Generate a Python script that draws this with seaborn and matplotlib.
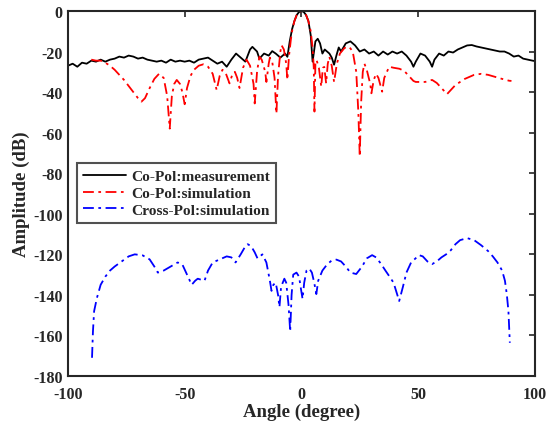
import pandas as pd
import seaborn as sns
import matplotlib.pyplot as plt

# Co-Pol measurement (black)
meas_angle = [-100, -98, -96, -94, -92, -90, -88, -86, -84, -82, -80, -78, -76, -74, -72, -70,
              -68, -66, -64, -62, -60, -58, -56, -54, -52, -50, -48, -46, -44, -42, -40, -38,
              -36, -34, -32, -30, -28, -26, -24, -22, -21, -19, -18, -16, -14, -12.5, -11, -9,
              -7, -6, -5, -4, -3, -2, -1, 0, 1, 2, 3, 4, 4.8, 6, 7, 8, 9, 10, 11, 12, 13, 14,
              15, 16, 17, 19, 21, 23, 25, 27, 29, 31, 33, 35, 37, 39, 41, 43, 45, 47, 48, 49,
              51, 53, 55, 56, 57, 59, 61, 63, 65, 67, 69, 71, 73, 75, 77, 79, 81, 83, 85, 87,
              89, 91, 93, 95, 97, 99, 100]
meas_db = [-27, -26, -27.5, -25.5, -26, -24.5, -25, -24, -25, -24, -23.5, -22.5, -23, -22, -22.5, -23.5,
           -23, -24, -24.5, -25, -24.5, -25.5, -24, -25, -24.5, -25, -24.5, -25.5, -24, -23.5, -23, -24.5,
           -26, -25, -27.5, -24, -21, -23, -25, -19, -17.7, -20, -23.5, -21, -22, -19.8, -21, -23,
           -21, -22.6, -15, -9, -5, -2, -0.5, 0, -0.5, -2, -5, -12, -25, -15, -13.7, -16, -21, -19, -20, -21, -23, -26.5,
           -22, -18, -20, -16, -15, -17, -20, -19, -21, -20, -22, -20, -21.5, -20, -21, -20, -22, -25, -27.5, -25,
           -21, -22, -25, -27.5, -24, -21, -22, -20, -20.5, -19, -18, -17, -16.8, -17.5, -18, -18.5, -19, -19.5, -20, -20,
           -21, -22.5, -22, -23.5, -24, -24.5, -24.7]

# Co-Pol simulation (red)
sim_angle = [-90, -88, -86, -84, -82, -80, -78, -76, -74, -72, -70, -68.5, -67, -65, -63, -61, -59,
             -57.5, -56.4, -55.5, -54.5, -53.4, -52, -51, -50, -49, -47.5, -46, -44, -42, -40, -38,
             -36.3, -35, -33.8, -32.3, -30.8, -29.5, -28.5, -27.5, -26.5, -25, -23.5, -22, -20.5, -20,
             -19, -18, -17, -15.5, -15, -14, -13.5, -12.5, -11.5, -10.7, -10, -9, -8.5, -7.5, -6.5, -6,
             -5.3, -4.5, -4, -3, -2, -1, 0, 1, 2, 3, 4, 4.8, 5.3, 5.6, 6, 6.5, 7.5, 8.5, 9.2, 9.8,
             10.6, 11.3, 12, 13, 14, 15.2, 16.5, 18.5, 20.5, 22, 23.5, 24.4, 25, 25.6, 26.3, 27, 28,
             29.5, 30, 31, 32, 33, 34.6, 35.5, 37.6, 39.5, 42, 44, 46, 48, 49, 51, 53, 56, 58, 60,
             62.4, 64, 66, 68, 70, 72, 74, 77, 80, 83, 86, 89, 90]
sim_db = [-24, -24.5, -24.5, -25.5, -27, -29, -31.5, -34, -37, -40, -43, -44.7, -43, -38, -33.5, -31, -33,
          -42, -58, -42, -36, -34, -36, -40, -46, -38, -32, -29, -27, -26.3, -27.5, -31,
          -39, -32, -29, -31, -35.7, -31, -30, -33, -38, -28, -24, -27, -36, -45.6,
          -30, -22.6, -24, -30, -35, -26, -23, -25, -33, -50.6, -32, -20, -16.9, -19, -26, -34,
          -22, -14, -10, -5, -2, -0.5, 0, -0.5, -2, -5, -10, -18, -28, -49.6, -26, -24.2, -28, -37.3, -28, -27.6,
          -35.7, -26, -22.6, -27, -35, -26, -21, -18.2, -17.7, -20, -30, -50, -71.7, -45, -30, -26, -29,
          -36, -40.6, -34, -31, -33, -39.8, -33, -27.5, -28, -28.5, -29.5, -32, -34.5, -35, -35, -35, -34, -35.5, -38,
          -41, -39, -36.5, -35, -33.5, -32.5, -31.5, -31, -31.5, -32.5, -33.5, -34.4, -34.5]

# Cross-Pol simulation (blue)
cross_angle = [-89.7, -89.3, -88.8, -87.6, -86, -84, -82, -80, -77, -74, -71.4, -68, -65, -63, -61.5,
               -59, -56, -53, -51, -49, -47, -45.5, -44.4, -43, -41.5, -40, -38, -35, -32, -30, -28.2,
               -26, -24, -23, -21.5, -20, -18.8, -16.7, -15, -13.5, -12.8, -12, -11, -10, -9.4, -8.7,
               -7.3, -6.5, -5.5, -4.8, -4.2, -3.5, -2.1, -1, -0.2, 0.5, 1.2, 2.2, 3.4, 4.5, 5.5, 6.4,
               7.2, 9, 11, 13, 15, 17, 19, 21, 23.5, 26, 28, 30.3, 32, 34, 36, 37.6, 39.5, 41.9, 43.5,
               45, 47, 50.4, 52, 54, 56, 58, 60, 62, 64, 66, 68, 71, 74, 77, 80, 82, 84, 86, 87.2, 88,
               88.7, 89.3]
cross_db = [-171, -158, -148, -141.5, -135, -131, -128, -126, -123.5, -121, -120, -120.5, -122.5, -126, -129,
            -128, -126, -124, -125, -130, -135, -133, -132, -132.5, -133, -128, -124, -122.5, -121, -121.5, -124,
            -120, -116, -115, -116, -119, -122, -120, -124, -133, -138, -135, -134, -140, -146, -136,
            -132, -134, -145, -158, -140, -130, -129, -131, -137, -142, -134, -128, -127, -129, -134, -139.6,
            -133, -128, -125, -123, -122.6, -123.5, -126, -129, -129.7, -126, -122, -120.4, -121.5, -124.5, -128, -130.7, -134, -143, -136,
            -129, -124, -120.4, -121, -123.5, -124.8, -123.5, -121.5, -120, -118, -115, -113, -112, -113, -115.5, -118.4, -121, -124, -128, -133, -139.7,
            -148, -163.6]

series_names = ["Co-Pol:measurement", "Co-Pol:simulation", "Cross-Pol:simulation"]

df = pd.concat([
    pd.DataFrame({"angle": meas_angle, "db": meas_db, "series": series_names[0]}),
    pd.DataFrame({"angle": sim_angle, "db": sim_db, "series": series_names[1]}),
    pd.DataFrame({"angle": cross_angle, "db": cross_db, "series": series_names[2]}),
], ignore_index=True)

sns.set_style("white")
plt.rcParams['font.family'] = ['Liberation Serif', 'DejaVu Serif']
plt.rcParams['font.weight'] = 'bold'
plt.rcParams['axes.unicode_minus'] = False

fig = plt.figure(figsize=(5.46, 4.27), dpi=100)
ax = fig.add_axes([0.1245, 0.117, 0.855, 0.855])

styles = {
    series_names[0]: dict(color="black", linestyle="-"),
    series_names[1]: dict(color="red", linestyle=(0, (6, 2.5, 1.5, 2.5))),
    series_names[2]: dict(color="blue", linestyle=(0, (6, 2.5, 1.5, 2.5))),
}
for name in series_names:
    sub = df[df["series"] == name]
    sns.lineplot(data=sub, x="angle", y="db", ax=ax, sort=False, estimator=None,
                 linewidth=1.3, label=name, **styles[name])

ax.set_xlim(-100, 100)
ax.set_ylim(-180, 0)
ax.set_xticks([-100, -50, 0, 50, 100])
ax.set_yticks(range(-180, 1, 20))
ax.tick_params(direction="in", top=True, right=True, length=4.5, width=1.2,
               labelsize=11.5)
ax.tick_params(axis="x", pad=7)
ax.tick_params(axis="y", pad=4)
for lab in ax.get_xticklabels() + ax.get_yticklabels():
    lab.set_fontweight("bold")
for sp in ax.spines.values():
    sp.set_visible(True)
    sp.set_color("#262626")
    sp.set_linewidth(1.5)

ax.set_xlabel("Angle (degree)", fontsize=13.5, fontweight="bold", labelpad=1)
ax.set_ylabel("Amplitude (dB)", fontsize=13.5, fontweight="bold", labelpad=2)

leg = ax.legend(loc="upper left", bbox_to_anchor=(0.019, 0.584), fontsize=11.1,
                frameon=True, fancybox=False, handlelength=2.8, borderpad=0.42,
                labelspacing=0.2, handletextpad=0.3, borderaxespad=0)
leg.get_frame().set_edgecolor("#262626")
leg.get_frame().set_linewidth(1.5)
for t in leg.get_texts():
    t.set_fontweight("bold")

plt.savefig("out.png", dpi=100)
